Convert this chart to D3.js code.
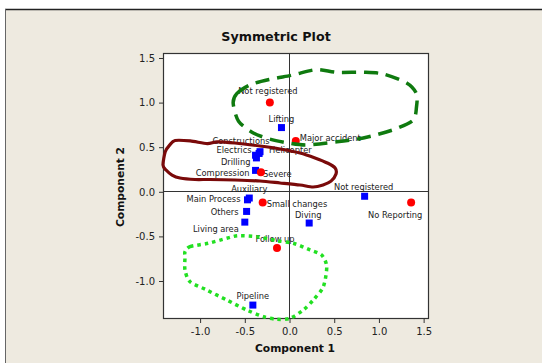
<!DOCTYPE html>
<html><head><meta charset="utf-8">
<script src="https://cdn.jsdelivr.net/npm/d3@7"></script>
<style>
html,body{margin:0;padding:0;background:#fff;}
svg{display:block;}
</style>
</head><body>
<svg id="c" width="542" height="363"></svg>
<script>
// ---- Data ----
const rowNames = ["Lifting","Constructions","Electrics","Helicopter","Drilling","Compression","Auxiliary","Main Process","Others","Living area","Diving","Not registered","Pipeline"];
const rowX = [-0.09,-0.33,-0.38,-0.34,-0.37,-0.38,-0.45,-0.47,-0.48,-0.50,0.22,0.84,-0.41];
const rowY = [0.72,0.45,0.41,0.43,0.38,0.24,-0.07,-0.09,-0.22,-0.34,-0.35,-0.05,-1.27];

const colNames = ["Not registered","Major accident","Severe","Small changes","No Reporting","Follow up"];
const colX = [-0.22,0.07,-0.32,-0.30,1.36,-0.14];
const colY = [1.00,0.57,0.22,-0.12,-0.12,-0.63];

const xTicks = [-1.0,-0.5,0.0,0.5,1.0,1.5];
const yTicks = [-1.0,-0.5,0.0,0.5,1.0,1.5];

// hand-drawn annotation outlines (data coordinates)
const darkGreenShape = [[-0.63,0.99],[-0.59,1.10],[-0.44,1.20],[-0.22,1.26],[0.04,1.31],[0.30,1.37],[0.53,1.34],[0.83,1.34],[1.05,1.32],[1.31,1.22],[1.42,1.10],[1.42,0.95],[1.385,0.805],[1.20,0.71],[0.975,0.64],[0.75,0.59],[0.53,0.56],[0.19,0.525],[-0.03,0.55],[-0.22,0.59],[-0.405,0.66],[-0.57,0.79]];
const maroonShape = [[-1.415,0.30],[-1.39,0.45],[-1.34,0.525],[-1.28,0.575],[-1.11,0.57],[-0.92,0.54],[-0.81,0.56],[-0.61,0.547],[-0.33,0.513],[-0.106,0.48],[0.117,0.435],[0.285,0.38],[0.43,0.32],[0.51,0.267],[0.52,0.20],[0.464,0.12],[0.375,0.076],[0.263,0.054],[0.117,0.076],[-0.106,0.099],[-0.33,0.121],[-0.61,0.132],[-0.89,0.138],[-1.057,0.138],[-1.225,0.155],[-1.314,0.188],[-1.381,0.244]];
const limeShape = [[-1.169,-0.672],[-1.113,-0.615],[-0.908,-0.577],[-0.702,-0.521],[-0.573,-0.492],[-0.367,-0.503],[-0.143,-0.548],[0.043,-0.577],[0.229,-0.652],[0.36,-0.709],[0.416,-0.84],[0.378,-1.064],[0.266,-1.213],[0.154,-1.325],[0.006,-1.418],[-0.143,-1.429],[-0.293,-1.40],[-0.479,-1.325],[-0.702,-1.213],[-0.926,-1.101],[-1.113,-1.008],[-1.169,-0.877],[-1.169,-0.728]];

// label placement (presentation only): [anchor, dx, dy]
const rowLabelPos = [["middle",0,-6],["middle",-19,-7.5],["end",-4,-2],["start",10,0],["end",-6,7],["end",-6,6],["middle",0,-6],["end",-7,2.5],["end",-8,3.5],["end",-6,10],["middle",-1,-5.5],["middle",-1,-6.5],["middle",0,-6.5]];
const colLabelPos = [["middle",-2,-8.7],["start",4,0.5],["start",2,4.5],["start",4,4],["middle",-16,15],["middle",-2,-6]];

// ---- Drawing ----
const svg = d3.select("#c");
const L=163, R=429, T=53, B=319;
const x = d3.scaleLinear().domain([-1.415,1.56]).range([L,R]);
const y = d3.scaleLinear().domain([-1.426,1.556]).range([B,T]);

// background
svg.append("rect").attr("x",5).attr("y",9).attr("width",537).attr("height",354).attr("fill","#EEEAE0");
svg.append("line").attr("x1",5).attr("x2",542).attr("y1",9.5).attr("y2",9.5).attr("stroke","#222").attr("stroke-width",1.5);
svg.append("line").attr("x1",5.5).attr("x2",5.5).attr("y1",9).attr("y2",363).attr("stroke","#666").attr("stroke-width",1);

// plot area
svg.append("rect").attr("x",L).attr("y",T).attr("width",R-L).attr("height",B-T).attr("fill","#fff");

// reference lines at zero
svg.append("line").attr("x1",x(0)).attr("x2",x(0)).attr("y1",T).attr("y2",B).attr("stroke","#333").attr("stroke-width",1).attr("shape-rendering","crispEdges");
svg.append("line").attr("x1",L).attr("x2",R).attr("y1",y(0)).attr("y2",y(0)).attr("stroke","#333").attr("stroke-width",1).attr("shape-rendering","crispEdges");

// axes
const fmt = d => d.toFixed(1);
const gx = svg.append("g").attr("transform",`translate(0,${B})`)
  .call(d3.axisBottom(x).tickValues(xTicks).tickFormat(fmt).tickSize(4).tickSizeOuter(0).tickPadding(5));
const gy = svg.append("g").attr("transform",`translate(${L},0)`)
  .call(d3.axisLeft(y).tickValues(yTicks).tickFormat(fmt).tickSize(4).tickSizeOuter(0).tickPadding(4));
[gx,gy].forEach(g=>{
  g.select(".domain").remove();
  g.selectAll("line").attr("stroke","#333");
  g.selectAll("text").attr("font-family","DejaVu Sans, sans-serif").attr("font-size","10px").attr("fill","#222");
});

// frame
svg.append("rect").attr("x",L+0.5).attr("y",T+0.5).attr("width",R-L-1).attr("height",B-T-1).attr("fill","none").attr("stroke","#333").attr("stroke-width",1.2);

// title and axis titles
svg.append("text").attr("x",276).attr("y",41).attr("text-anchor","middle")
  .attr("font-family","DejaVu Sans, sans-serif").attr("font-weight","bold").attr("font-size","12.7px").attr("fill","#111").text("Symmetric Plot");
svg.append("text").attr("x",295).attr("y",352).attr("text-anchor","middle")
  .attr("font-family","DejaVu Sans, sans-serif").attr("font-weight","bold").attr("font-size","10.7px").attr("fill","#111").text("Component 1");
svg.append("text").attr("transform","translate(124,187) rotate(-90)").attr("text-anchor","middle")
  .attr("font-family","DejaVu Sans, sans-serif").attr("font-weight","bold").attr("font-size","10.7px").attr("fill","#111").text("Component 2");

// labels
const lblFont = "DejaVu Sans, sans-serif";
function addLabels(names, xs, ys, pos){
  svg.append("g").selectAll("text").data(names).join("text")
    .attr("x",(d,i)=>x(xs[i])+pos[i][1])
    .attr("y",(d,i)=>y(ys[i])+pos[i][2])
    .attr("text-anchor",(d,i)=>pos[i][0])
    .attr("font-family",lblFont).attr("font-size","8.3px").attr("fill","#222")
    .text(d=>d);
}

// points
const rows = rowNames.map((n,i)=>({n,x:rowX[i],y:rowY[i]}));
const cols = colNames.map((n,i)=>({n,x:colX[i],y:colY[i]}));

addLabels(rowNames,rowX,rowY,rowLabelPos);
addLabels(colNames,colX,colY,colLabelPos);

svg.append("g").selectAll("rect").data(rows).join("rect")
  .attr("x",d=>x(d.x)-3.5).attr("y",d=>y(d.y)-3.5).attr("width",7).attr("height",7).attr("fill","#0000FF");
svg.append("g").selectAll("circle").data(cols).join("circle")
  .attr("cx",d=>x(d.x)).attr("cy",d=>y(d.y)).attr("r",4).attr("fill","#FF0000");

// annotation outlines
const line = d3.line().x(d=>x(d[0])).y(d=>y(d[1])).curve(d3.curveCardinalClosed.tension(0.2));
svg.append("path").attr("d",line(darkGreenShape)).attr("fill","none").attr("stroke","#0F7A0F").attr("stroke-width",3.5).attr("stroke-dasharray","14,8").attr("stroke-linecap","butt");
svg.append("path").attr("d",line(maroonShape)).attr("fill","none").attr("stroke","#7A0A0A").attr("stroke-width",3.2).attr("stroke-linejoin","round");
svg.append("path").attr("d",line(limeShape)).attr("fill","none").attr("stroke","#22E022").attr("stroke-width",3.5).attr("stroke-dasharray","3.5,4");
</script>
</body></html>
